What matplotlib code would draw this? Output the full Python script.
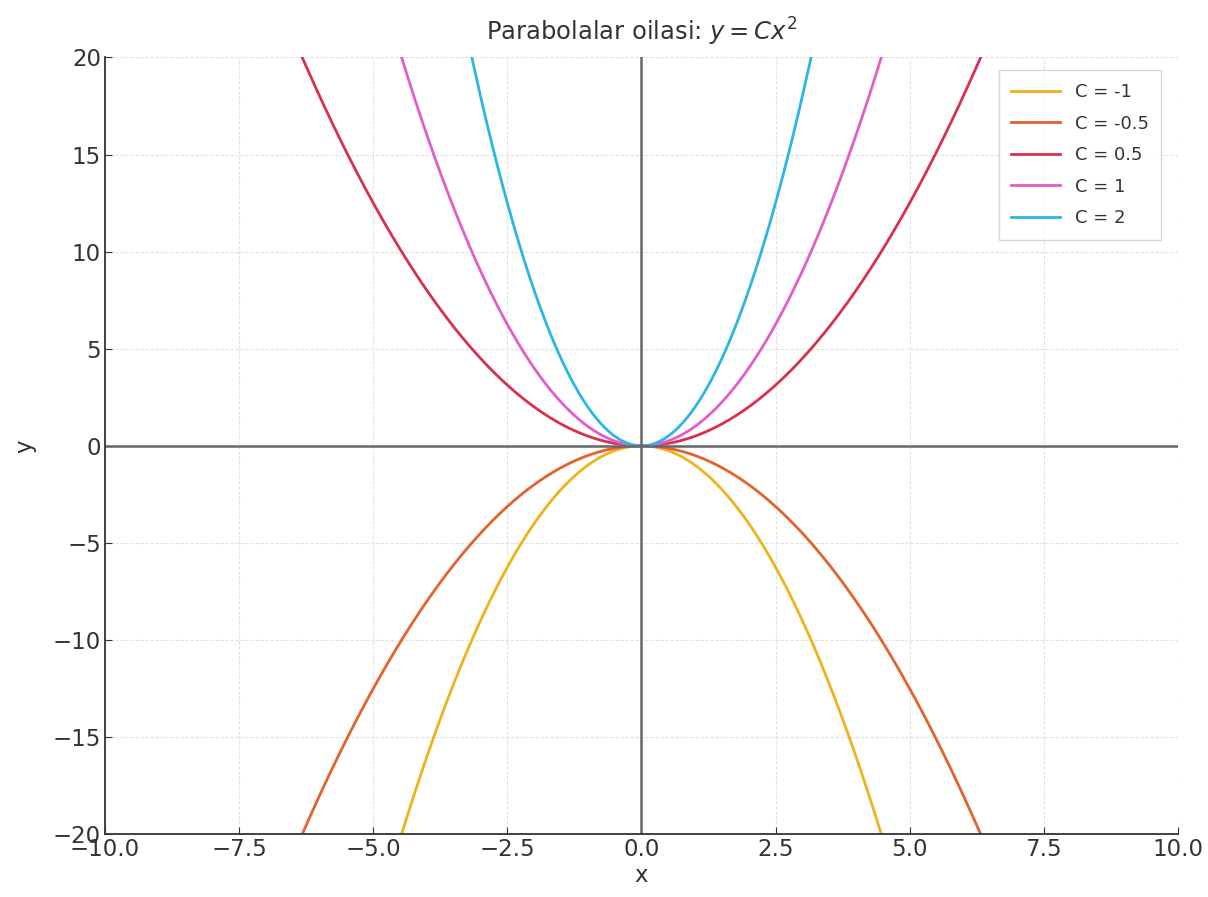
import numpy as np
import matplotlib.pyplot as plt

# coefficients of y = C x^2 and the colour for each curve
c_values = [-1, -0.5, 0.5, 1, 2]
c_labels = ["C = -1", "C = -0.5", "C = 0.5", "C = 1", "C = 2"]
colors = ["#f0b21a", "#e4622c", "#d8304e", "#e35ccb", "#2bb6e6"]

x = np.linspace(-10, 10, 800)

fig = plt.figure(figsize=(12.08, 8.97), dpi=100)
ax = fig.add_axes([0.087, 0.070, 0.888, 0.866])

for c, lab, col in zip(c_values, c_labels, colors):
    ax.plot(x, c * x**2, color=col, lw=2, label=lab)

ax.axhline(0, color="#666666", lw=1.8)
ax.axvline(0, color="#666666", lw=1.8)

ax.set_xlim(-10, 10)
ax.set_ylim(-20, 20)
ax.set_xticks(np.arange(-10, 10.1, 2.5))
ax.set_yticks(np.arange(-20, 21, 5))

ax.grid(True, color="#e2e2e2", lw=0.8, ls=(0, (3, 1.5)))
for s in ["top", "right"]:
    ax.spines[s].set_visible(False)
for s in ["left", "bottom"]:
    ax.spines[s].set_color("#333333")
    ax.spines[s].set_linewidth(1.3)

ax.tick_params(direction="in", length=5, pad=3, labelsize=16.5,
               colors="#333333", labelcolor="#333333")

ax.set_title(r"Parabolalar oilasi: $y = Cx^2$", fontsize=17.5, color="#333333", pad=12)
ax.set_xlabel("x", fontsize=16.5, color="#333333", labelpad=2)
ax.set_ylabel("y", fontsize=16.5, color="#333333", labelpad=12)

leg = ax.legend(loc="upper right", fontsize=13, frameon=True, fancybox=False,
                edgecolor="#cccccc", handlelength=2.7, borderpad=0.7,
                labelspacing=0.75, bbox_to_anchor=(0.993, 0.995))
for t in leg.get_texts():
    t.set_color("#333333")

fig.savefig("out.png", dpi=100)
